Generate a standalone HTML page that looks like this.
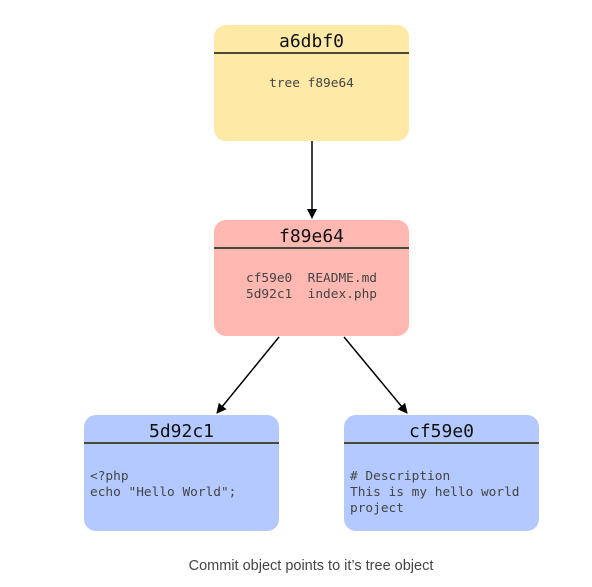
<!DOCTYPE html>
<html><head><style>
body{margin:0;width:592px;height:587px;background:#fff;position:relative;overflow:hidden}
.b{position:absolute;width:195px;height:116px;border-radius:12px;font-family:"DejaVu Sans Mono","Liberation Mono",monospace}
.h{height:27px;border-bottom:2px solid #4a4a3a;text-align:center;font-size:18px;line-height:33px;color:#111;overflow:hidden}
.c{font-size:12.8px;color:#444;white-space:pre;line-height:16px}
.cap{position:absolute;top:558px;left:0;width:622px;text-align:center;font:14.5px "Liberation Sans",sans-serif;color:#444}
</style></head><body>
<div class="b" style="left:214px;top:25px;background:#ffe9a6"><div class="h">a6dbf0</div><div class="c" style="text-align:center;margin-top:22px">tree f89e64</div></div>
<div class="b" style="left:214px;top:220px;background:#ffb8b1"><div class="h">f89e64</div><div class="c" style="text-align:center;margin-top:22px">cf59e0  README.md
5d92c1  index.php</div></div>
<div class="b" style="left:84px;top:415px;background:#b3c9ff"><div class="h">5d92c1</div><div class="c" style="margin:25px 0 0 6px">&lt;?php
echo "Hello World";</div></div>
<div class="b" style="left:344px;top:415px;background:#b3c9ff"><div class="h">cf59e0</div><div class="c" style="margin:25px 0 0 6px"># Description
This is my hello world
project</div></div>
<svg width="592" height="587" style="position:absolute;left:0;top:0">
<defs><marker id="a" markerWidth="10" markerHeight="10" refX="9" refY="5" orient="auto" markerUnits="userSpaceOnUse"><path d="M0,0 L10,5 L0,10z" fill="#000"/></marker></defs>
<g stroke="#000" stroke-width="1.5" marker-end="url(#a)">
<line x1="312" y1="141" x2="312" y2="218"/>
<line x1="279" y1="337" x2="217" y2="413"/>
<line x1="344" y1="337" x2="407" y2="413"/>
</g></svg>
<div class="cap">Commit object points to it’s tree object</div>
</body></html>
